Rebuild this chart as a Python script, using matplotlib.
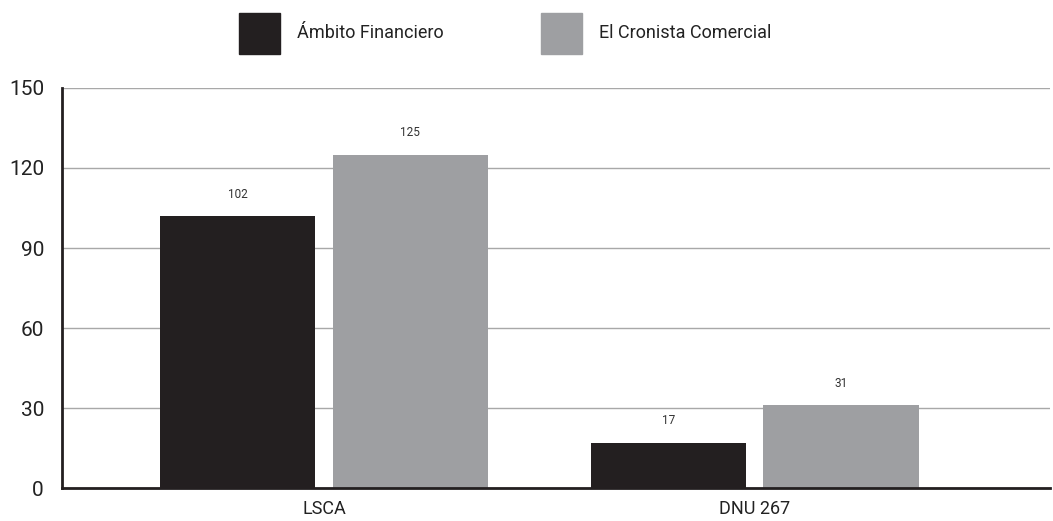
import numpy as np
import matplotlib
matplotlib.use("Agg")
import matplotlib.pyplot as plt
from matplotlib.patches import Rectangle

categories = ["LSCA", "DNU 267"]
series_names = ["Ámbito Financiero", "El Cronista Comercial"]
ambito = [102, 17]
cronista = [125, 31]
yticks = [0, 30, 60, 90, 120, 150]

dark = "#231f20"
grey = "#9e9fa2"

plt.rcParams['font.family'] = ['Roboto', 'DejaVu Sans']

fig = plt.figure(figsize=(10.53, 5.21), dpi=100)
ax = fig.add_axes([62 / 1053, 33 / 521, 988 / 1053, 400 / 521])

x = np.arange(len(categories))
w = 0.36
b1 = ax.bar(x - 0.2, ambito, w, color=dark, zorder=3)
b2 = ax.bar(x + 0.2, cronista, w, color=grey, zorder=3)

for bars, vals in ((b1, ambito), (b2, cronista)):
	for bar, v in zip(bars, vals):
		ax.annotate(str(v), (bar.get_x() + bar.get_width() / 2, v),
			xytext=(0, 11), textcoords="offset points",
			ha="center", va="bottom", fontsize=8.5, color="#333333")

ax.set_xlim(-0.608, 1.685)
ax.set_ylim(0, 150)
ax.set_yticks(yticks)
ax.set_yticklabels([str(t) for t in yticks], fontsize=15, color="#222222")
ax.set_xticks(x)
ax.set_xticklabels(categories, fontsize=13, color="#222222")
ax.tick_params(axis="both", length=0)
ax.tick_params(axis="y", pad=13)
ax.tick_params(axis="x", pad=9)
ax.yaxis.grid(True, color="#a8a8a8", linewidth=1, zorder=0)
for s in ("top", "right"):
	ax.spines[s].set_visible(False)
ax.spines["left"].set_linewidth(2)
ax.spines["left"].set_color(dark)
ax.spines["bottom"].set_linewidth(2)
ax.spines["bottom"].set_color(dark)
ax.spines["left"].set_zorder(4)
ax.spines["bottom"].set_zorder(4)

# legend squares drawn in figure pixels
for name, col, px in ((series_names[0], dark, 239), (series_names[1], grey, 541)):
	fig.patches.append(Rectangle((px / 1053, (521 - 54) / 521), 41 / 1053, 41 / 521,
		transform=fig.transFigure, color=col))
	fig.text((px + 58) / 1053, (521 - 33) / 521, name, fontsize=13,
		color="#222222", va="center", ha="left")

fig.savefig("out.png", dpi=100)
